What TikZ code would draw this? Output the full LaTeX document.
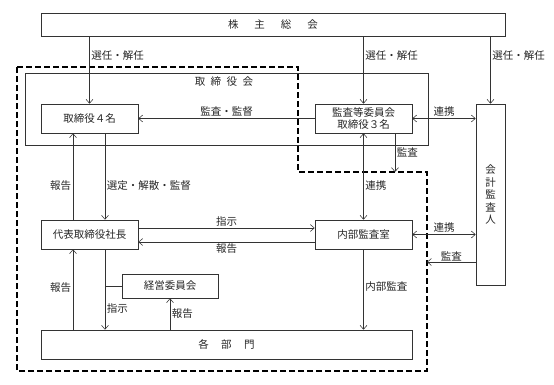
\documentclass[tikz,border=0pt]{standalone}
\usepackage{fontspec}
\setmainfont{Noto Sans CJK JP}
\usetikzlibrary{arrows.meta}

\begin{document}
\begin{tikzpicture}[x=1pt, y=-1pt,
  font=\fontsize{10.5}{12.5}\selectfont, text=black!85,
  box/.style={draw=black!80, line width=0.6pt, inner sep=0pt, align=center},
  lbl/.style={inner sep=1.5pt},
  arr/.style={draw=black!80, line width=0.55pt, -{Straight Barb[length=4pt, width=7pt]}},
  darr/.style={draw=black!80, line width=0.55pt,
               {Straight Barb[length=4pt, width=7pt]}-{Straight Barb[length=4pt, width=7pt]}},
  auditline/.style={draw=black, line width=1.3pt, dash pattern=on 6pt off 3pt}]
\useasboundingbox (0,0) rectangle (554,384);
% audit scope
\draw[auditline] (17,67) -- (298,67) -- (298,172) -- (427,172) -- (427,371) -- (17,371) -- cycle;
% boxes
\node[box, minimum width=464pt, minimum height=23pt] (gm) at (273,24.5)
  {株\hspace{16pt}主\hspace{16pt}総\hspace{16pt}会};
\node[box, minimum width=403pt, minimum height=72pt] (board) at (226.5,109) {};
\node[lbl] (boardlbl) at (224,82) {取\hspace{5.5pt}締\hspace{5.5pt}役\hspace{5.5pt}会};
\node[box, minimum width=97pt, minimum height=29pt] (dir) at (89.5,118.5) {取締役４名};
\node[box, minimum width=97pt, minimum height=29pt] (aud) at (363.5,118.5) {監査等委員会\\取締役３名};
\node[box, minimum width=29pt, minimum height=181pt] (acc) at (490.5,194.5) {会\\計\\監\\査\\人};
\node[box, minimum width=97pt, minimum height=29pt] (pres) at (89.5,234.5) {代表取締役社長};
\node[box, minimum width=97pt, minimum height=29pt] (ia) at (363.5,234.5) {内部監査室};
\node[box, minimum width=96pt, minimum height=24pt] (mc) at (170,286) {経営委員会};
\node[box, minimum width=371pt, minimum height=29pt] (dept) at (226.5,344.5)
  {各\hspace{12.5pt}部\hspace{12.5pt}門};
\coordinate (dashA) at (395,172);
\coordinate (dashB) at (427,262);
% connectors
\draw[arr] (gm.south -| dir) -- node[lbl, pos=.28, right] {選任・解任} (dir.north);
\draw[arr] (gm.south -| aud) -- node[lbl, pos=.28, right] {選任・解任} (aud.north);
\draw[arr] (gm.south -| acc) -- node[lbl, pos=.28, right] {選任・解任} (acc.north);
\draw[arr] (aud.west) -- node[lbl, above] {監査・監督} (dir.east);
\draw[darr] (aud.east) -- node[lbl, above] {連携} (aud.east -| acc.west);
\draw[arr] (aud.south -| dashA) -- node[lbl, right] {監査} (dashA);
\draw[darr] (aud.south) -- node[lbl, pos=.6, right] {連携} (ia.north);
\draw[arr] ([xshift=15.5pt]dir.south) -- node[lbl, pos=.6, right] {選定・解散・監督}
  ([xshift=15.5pt]dir.south |- pres.north);
\draw[arr] ([xshift=-16.5pt]pres.north) -- node[lbl, pos=.4, left] {報告}
  ([xshift=-16.5pt]pres.north |- dir.south);
\draw[arr] ([yshift=6.5pt]pres.east) -- node[lbl, above] {指示} ([yshift=6.5pt]pres.east -| ia.west);
\draw[arr] ([yshift=-7.5pt]ia.west) -- node[lbl, below] {報告} ([yshift=-7.5pt]ia.west -| pres.east);
\draw[arr] ([xshift=15.5pt]pres.south) -- node[lbl, pos=.74, right] {指示}
  ([xshift=15.5pt]pres.south |- dept.north);
\draw[draw=black!80, line width=0.55pt] ([xshift=15.5pt]pres.south |- mc.west) -- (mc.west);
\draw[arr] ([xshift=-16.5pt]pres.south |- dept.north) -- node[lbl, pos=.53, left] {報告}
  ([xshift=-16.5pt]pres.south);
\draw[arr] (mc.south |- dept.north) -- node[lbl, right] {報告} (mc.south);
\draw[arr] (ia.south) -- node[lbl, pos=.46, right] {内部監査} (ia.south |- dept.north);
\draw[darr] (ia.east) -- node[lbl, above] {連携} (ia.east -| acc.west);
\draw[arr] (acc.west |- dashB) -- node[lbl, above=-1pt] {監査} (dashB);
\end{tikzpicture}
\end{document}
